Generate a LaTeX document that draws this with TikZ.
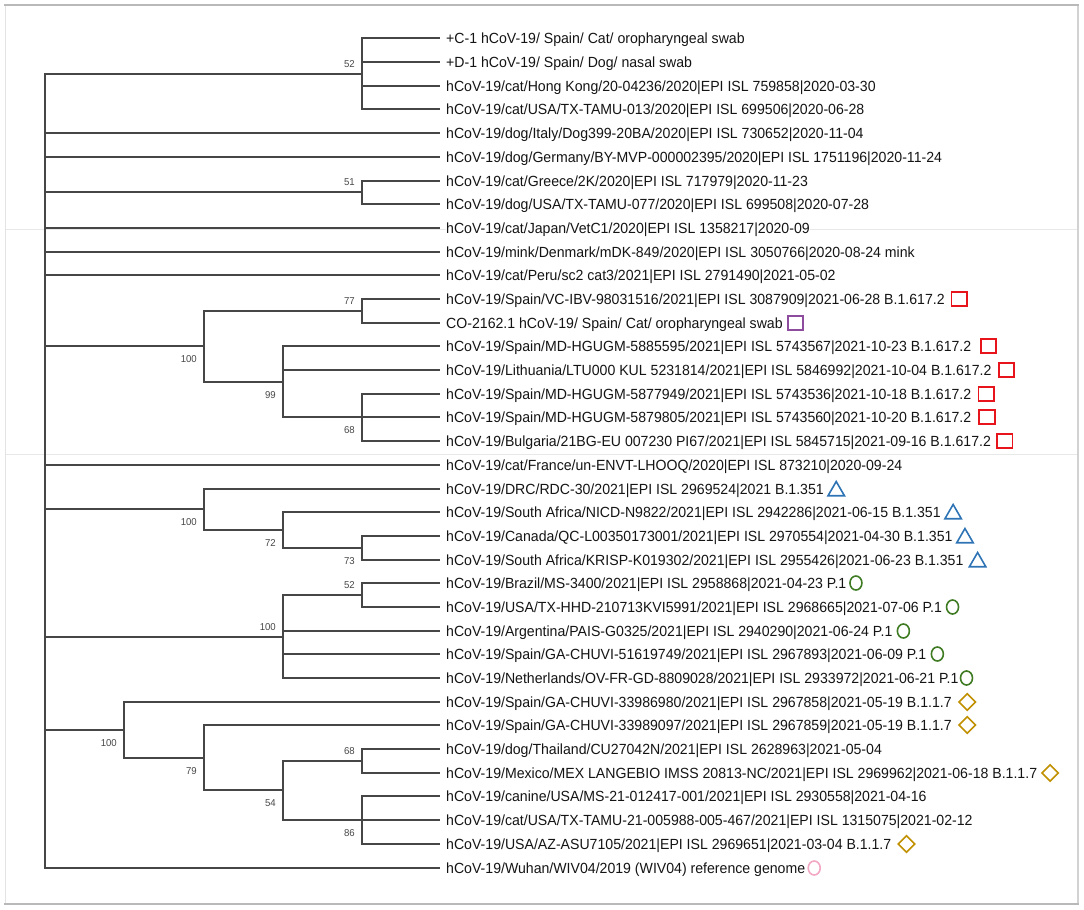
\documentclass[tikz,border=0pt]{standalone}
\usepackage{fontspec}
\setmainfont{Liberation Sans}[FakeStretch=0.96]
\usetikzlibrary{shapes.geometric,calc}
\definecolor{cred}{HTML}{E8141C}
\definecolor{cpur}{HTML}{8E4C9E}
\definecolor{cblu}{HTML}{2E74B5}
\definecolor{cgrn}{HTML}{3E7B22}
\definecolor{cgld}{HTML}{C09000}
\definecolor{cpnk}{HTML}{F2A7C3}
\definecolor{cbr}{HTML}{464646}
\definecolor{ctx}{HTML}{141414}
\begin{document}
\begin{tikzpicture}[x=1pt,y=-1pt,
  br/.style={draw=cbr,line width=2pt},
  leaf/.style={anchor=west,inner sep=0pt,text height=10.5pt,text depth=0pt,text=ctx,font=\fontsize{14.7}{17}\selectfont},
  boot/.style={anchor=east,inner sep=0pt,text height=7.4pt,text depth=0pt,text=black!72,font=\fontsize{10}{12}\selectfont},
  msq/.style={draw=cred,line width=1.8pt,rectangle,minimum width=15.5pt,minimum height=13.5pt,inner sep=0pt,anchor=west},
  mpu/.style={msq,draw=cpur},
  mtri/.style={draw=cblu,line width=1.6pt,regular polygon,regular polygon sides=3,minimum size=19pt,inner sep=0pt},
  mci/.style={draw=cgrn,line width=1.6pt,ellipse,minimum width=12pt,minimum height=14pt,inner sep=0pt,anchor=west},
  mdi/.style={draw=cgld,line width=1.6pt,diamond,minimum width=17pt,minimum height=17pt,inner sep=0pt,anchor=west},
  mpk/.style={mci,draw=cpnk}]
\useasboundingbox (0,0) rectangle (1084,910);
% frame and scan seams
\draw[gray!18,line width=1.2pt] (5,229.6) -- (1078,229.6);
\draw[gray!18,line width=1.2pt] (5,454.3) -- (1078,454.3);
\draw[gray!22,line width=1pt] (5,5) -- (5,904);
\draw[gray!35,line width=1.2pt] (1078,5) -- (1078,904);
\draw[gray!55,line width=2pt] (4,5) -- (1079,5);
\draw[gray!55,line width=2pt] (4,904) -- (1079,904);
% tips
\foreach \i in {1,...,36} \coordinate (l\i) at (440,{round(38.4+23.69*(\i-1))});
% internal nodes
\coordinate (root) at (45,471);
\coordinate (nA52) at (362,74);
\coordinate (nB51) at (362,192);
\coordinate (nD77) at (362,311);
\coordinate (nD68) at (362,417);
\coordinate (nD99) at (283,382);
\coordinate (nD100) at (204,346);
\coordinate (nBe73) at (362,548);
\coordinate (nBe72) at (283,530);
\coordinate (nBe100) at (204,509);
\coordinate (nG52) at (362,595);
\coordinate (nG100) at (283,637);
\coordinate (nAl68) at (362,761);
\coordinate (nAl86) at (362,820);
\coordinate (nAl54) at (283,790);
\coordinate (nAl79) at (204,758);
\coordinate (nAl100) at (124,730);
% branches
\draw[br] (root) |- (nA52); \draw[br] (root) |- (l5); \draw[br] (root) |- (l6);
\draw[br] (root) |- (nB51); \draw[br] (root) |- (l9); \draw[br] (root) |- (l10);
\draw[br] (root) |- (l11); \draw[br] (root) |- (nD100); \draw[br] (root) |- (l19);
\draw[br] (root) |- (nBe100); \draw[br] (root) |- (nG100); \draw[br] (root) |- (nAl100);
\draw[br] (root) |- (l36);
\foreach \c in {1,2,3,4} \draw[br] (nA52) |- (l\c);
\foreach \c in {7,8} \draw[br] (nB51) |- (l\c);
\draw[br] (nD100) |- (nD77); \draw[br] (nD100) |- (nD99);
\foreach \c in {12,13} \draw[br] (nD77) |- (l\c);
\draw[br] (nD99) |- (l14); \draw[br] (nD99) |- (l15); \draw[br] (nD99) |- (nD68);
\foreach \c in {16,17,18} \draw[br] (nD68) |- (l\c);
\draw[br] (nBe100) |- (l20); \draw[br] (nBe100) |- (nBe72);
\draw[br] (nBe72) |- (l21); \draw[br] (nBe72) |- (nBe73);
\foreach \c in {22,23} \draw[br] (nBe73) |- (l\c);
\draw[br] (nG100) |- (nG52);
\foreach \c in {26,27,28} \draw[br] (nG100) |- (l\c);
\foreach \c in {24,25} \draw[br] (nG52) |- (l\c);
\draw[br] (nAl100) |- (l29); \draw[br] (nAl100) |- (nAl79);
\draw[br] (nAl79) |- (l30); \draw[br] (nAl79) |- (nAl54);
\draw[br] (nAl54) |- (nAl68); \draw[br] (nAl54) |- (nAl86);
\foreach \c in {31,32} \draw[br] (nAl68) |- (l\c);
\foreach \c in {33,34,35} \draw[br] (nAl86) |- (l\c);
% bootstrap values
\node[boot] (b1) at ($(nA52)+(-7,-10)$) {52};
\node[boot] (b2) at ($(nB51)+(-7,-10)$) {51};
\node[boot] (b3) at ($(nD77)+(-7,-10)$) {77};
\node[boot] (b4) at ($(nD100)+(-7,13)$) {100};
\node[boot] (b5) at ($(nD99)+(-7,13)$) {99};
\node[boot] (b6) at ($(nD68)+(-7,13)$) {68};
\node[boot] (b7) at ($(nBe100)+(-7,13)$) {100};
\node[boot] (b8) at ($(nBe72)+(-7,13)$) {72};
\node[boot] (b9) at ($(nBe73)+(-7,13)$) {73};
\node[boot] (b10) at ($(nG52)+(-7,-10)$) {52};
\node[boot] (b11) at ($(nG100)+(-7,-10)$) {100};
\node[boot] (b12) at ($(nAl100)+(-7,13)$) {100};
\node[boot] (b13) at ($(nAl79)+(-7,13)$) {79};
\node[boot] (b14) at ($(nAl54)+(-7,13)$) {54};
\node[boot] (b15) at ($(nAl68)+(-7,-10)$) {68};
\node[boot] (b16) at ($(nAl86)+(-7,13)$) {86};
% leaf labels
\node[leaf] (t1) at ([xshift=6pt]l1) {+C-1 hCoV-19/ Spain/ Cat/ oropharyngeal swab};
\node[leaf] (t2) at ([xshift=6pt]l2) {+D-1 hCoV-19/ Spain/ Dog/ nasal swab};
\node[leaf] (t3) at ([xshift=6pt]l3) {hCoV-19/cat/Hong Kong/20-04236/2020|EPI ISL 759858|2020-03-30};
\node[leaf] (t4) at ([xshift=6pt]l4) {hCoV-19/cat/USA/TX-TAMU-013/2020|EPI ISL 699506|2020-06-28};
\node[leaf] (t5) at ([xshift=6pt]l5) {hCoV-19/dog/Italy/Dog399-20BA/2020|EPI ISL 730652|2020-11-04};
\node[leaf] (t6) at ([xshift=6pt]l6) {hCoV-19/dog/Germany/BY-MVP-000002395/2020|EPI ISL 1751196|2020-11-24};
\node[leaf] (t7) at ([xshift=6pt]l7) {hCoV-19/cat/Greece/2K/2020|EPI ISL 717979|2020-11-23};
\node[leaf] (t8) at ([xshift=6pt]l8) {hCoV-19/dog/USA/TX-TAMU-077/2020|EPI ISL 699508|2020-07-28};
\node[leaf,fill=white] (t9) at ([xshift=6pt]l9) {hCoV-19/cat/Japan/VetC1/2020|EPI ISL 1358217|2020-09};
\node[leaf] (t10) at ([xshift=6pt]l10) {hCoV-19/mink/Denmark/mDK-849/2020|EPI ISL 3050766|2020-08-24 mink};
\node[leaf] (t11) at ([xshift=6pt]l11) {hCoV-19/cat/Peru/sc2 cat3/2021|EPI ISL 2791490|2021-05-02};
\node[leaf] (t12) at ([xshift=6pt]l12) {hCoV-19/Spain/VC-IBV-98031516/2021|EPI ISL 3087909|2021-06-28 B.1.617.2};
\node[leaf] (t13) at ([xshift=6pt]l13) {CO-2162.1 hCoV-19/ Spain/ Cat/ oropharyngeal swab};
\node[leaf] (t14) at ([xshift=6pt]l14) {hCoV-19/Spain/MD-HGUGM-5885595/2021|EPI ISL 5743567|2021-10-23 B.1.617.2};
\node[leaf] (t15) at ([xshift=6pt]l15) {hCoV-19/Lithuania/LTU000 KUL 5231814/2021|EPI ISL 5846992|2021-10-04 B.1.617.2};
\node[leaf] (t16) at ([xshift=6pt]l16) {hCoV-19/Spain/MD-HGUGM-5877949/2021|EPI ISL 5743536|2021-10-18 B.1.617.2};
\node[leaf] (t17) at ([xshift=6pt]l17) {hCoV-19/Spain/MD-HGUGM-5879805/2021|EPI ISL 5743560|2021-10-20 B.1.617.2};
\node[leaf] (t18) at ([xshift=6pt]l18) {hCoV-19/Bulgaria/21BG-EU 007230 PI67/2021|EPI ISL 5845715|2021-09-16 B.1.617.2};
\node[leaf] (t19) at ([xshift=6pt]l19) {hCoV-19/cat/France/un-ENVT-LHOOQ/2020|EPI ISL 873210|2020-09-24};
\node[leaf] (t20) at ([xshift=6pt]l20) {hCoV-19/DRC/RDC-30/2021|EPI ISL 2969524|2021 B.1.351};
\node[leaf] (t21) at ([xshift=6pt]l21) {hCoV-19/South Africa/NICD-N9822/2021|EPI ISL 2942286|2021-06-15 B.1.351};
\node[leaf] (t22) at ([xshift=6pt]l22) {hCoV-19/Canada/QC-L00350173001/2021|EPI ISL 2970554|2021-04-30 B.1.351};
\node[leaf] (t23) at ([xshift=6pt]l23) {hCoV-19/South Africa/KRISP-K019302/2021|EPI ISL 2955426|2021-06-23 B.1.351};
\node[leaf] (t24) at ([xshift=6pt]l24) {hCoV-19/Brazil/MS-3400/2021|EPI ISL 2958868|2021-04-23 P.1};
\node[leaf] (t25) at ([xshift=6pt]l25) {hCoV-19/USA/TX-HHD-210713KVI5991/2021|EPI ISL 2968665|2021-07-06 P.1};
\node[leaf] (t26) at ([xshift=6pt]l26) {hCoV-19/Argentina/PAIS-G0325/2021|EPI ISL 2940290|2021-06-24 P.1};
\node[leaf] (t27) at ([xshift=6pt]l27) {hCoV-19/Spain/GA-CHUVI-51619749/2021|EPI ISL 2967893|2021-06-09 P.1};
\node[leaf] (t28) at ([xshift=6pt]l28) {hCoV-19/Netherlands/OV-FR-GD-8809028/2021|EPI ISL 2933972|2021-06-21 P.1};
\node[leaf] (t29) at ([xshift=6pt]l29) {hCoV-19/Spain/GA-CHUVI-33986980/2021|EPI ISL 2967858|2021-05-19 B.1.1.7};
\node[leaf] (t30) at ([xshift=6pt]l30) {hCoV-19/Spain/GA-CHUVI-33989097/2021|EPI ISL 2967859|2021-05-19 B.1.1.7};
\node[leaf] (t31) at ([xshift=6pt]l31) {hCoV-19/dog/Thailand/CU27042N/2021|EPI ISL 2628963|2021-05-04};
\node[leaf] (t32) at ([xshift=6pt]l32) {hCoV-19/Mexico/MEX LANGEBIO IMSS 20813-NC/2021|EPI ISL 2969962|2021-06-18 B.1.1.7};
\node[leaf] (t33) at ([xshift=6pt]l33) {hCoV-19/canine/USA/MS-21-012417-001/2021|EPI ISL 2930558|2021-04-16};
\node[leaf] (t34) at ([xshift=6pt]l34) {hCoV-19/cat/USA/TX-TAMU-21-005988-005-467/2021|EPI ISL 1315075|2021-02-12};
\node[leaf] (t35) at ([xshift=6pt]l35) {hCoV-19/USA/AZ-ASU7105/2021|EPI ISL 2969651|2021-03-04 B.1.1.7};
\node[leaf] (t36) at ([xshift=6pt]l36) {hCoV-19/Wuhan/WIV04/2019 (WIV04) reference genome};
% markers
\node[msq] (m12) at ([xshift=5.7pt]t12.east) {};
\node[mpu] (m13) at ([xshift=4pt]t13.east) {};
\node[msq] (m14) at ([xshift=8.4pt]t14.east) {};
\node[msq] (m15) at ([xshift=6pt]t15.east) {};
\node[msq] (m16) at ([xshift=6pt]t16.east) {};
\node[msq] (m17) at ([xshift=6.7pt]t17.east) {};
\node[msq] (m18) at ([xshift=5pt]t18.east) {};
\node[mtri] (m20) at ($(t20.east)+(12.2,2)$) {};
\node[mtri] (m21) at ($(t21.east)+(12.2,2)$) {};
\node[mtri] (m22) at ($(t22.east)+(12.2,2)$) {};
\node[mtri] (m23) at ($(t23.east)+(13.9,2)$) {};
\node[mci] (m24) at ([xshift=2.6pt]t24.east) {};
\node[mci] (m25) at ([xshift=3.5pt]t25.east) {};
\node[mci] (m26) at ([xshift=4pt]t26.east) {};
\node[mci] (m27) at ([xshift=4pt]t27.east) {};
\node[mci] (m28) at ([xshift=1pt]t28.east) {};
\node[mdi] (m29) at ([xshift=6pt]t29.east) {};
\node[mdi] (m30) at ([xshift=6pt]t30.east) {};
\node[mdi] (m32) at ([xshift=3.5pt]t32.east) {};
\node[mdi] (m35) at ([xshift=5.7pt]t35.east) {};
\node[mpk] (m36) at ([xshift=2pt]t36.east) {};
\end{tikzpicture}
\end{document}
